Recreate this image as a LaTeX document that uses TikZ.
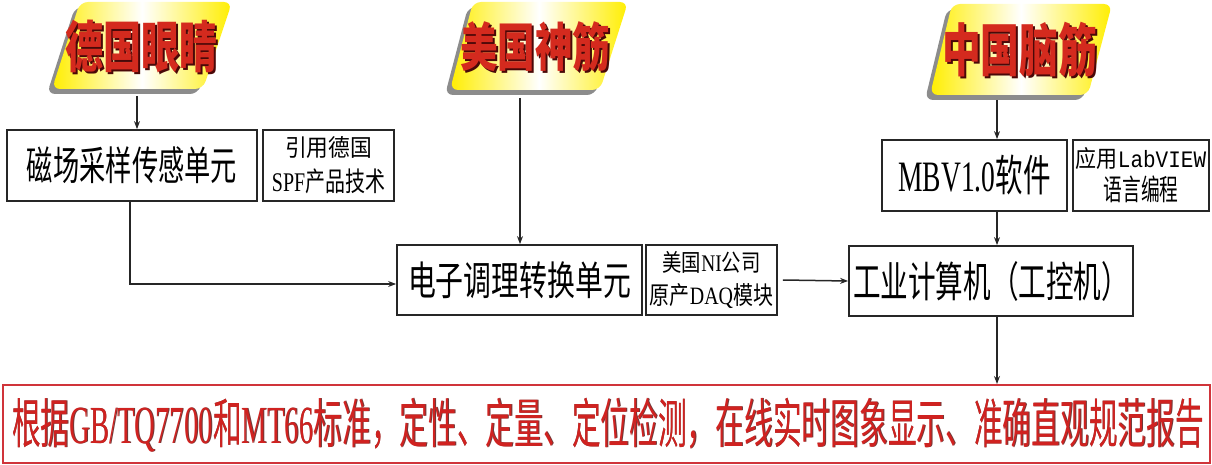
\documentclass[tikz,border=0pt]{standalone}
\usepackage{fontspec}
\usepackage{graphicx}
\setmainfont{Noto Sans CJK SC}
\newfontfamily\lat{Liberation Serif}
\newfontfamily\mon{Liberation Mono}
\usetikzlibrary{arrows.meta}
\newcommand{\fitto}[3]{\resizebox*{#1pt}{#2pt}{#3}}
\definecolor{bred}{HTML}{D42A1E}
\definecolor{bshadow}{HTML}{4A0808}
\definecolor{byel}{HTML}{FFEE00}
\definecolor{redline}{HTML}{D0343A}
\definecolor{btext}{HTML}{D02220}
\tikzset{
  box/.style={draw=black!85, line width=1.8pt, inner sep=0pt, fill=white, font=\fontsize{1}{1}\selectfont, align=center},
  redbox/.style={draw=redline, line width=2pt, inner sep=0pt},
  conn/.style={line width=1.1pt, draw=black!85, -{Stealth[length=8pt,width=6pt]}},
  banner/.style={left color=byel, right color=byel, middle color=white, rounded corners=8},
  bshade/.style={fill=black!45, rounded corners=8},
  btitle/.style={inner sep=0pt, text=bred, font=\bfseries},
  btshadow/.style={inner sep=0pt, text=bshadow, font=\bfseries}
}
\begin{document}
\begin{tikzpicture}[x=1pt,y=-1pt]
\useasboundingbox (0,0) rectangle (1212,465);
% banners
\fill[bshade] (75,7) -- (227,7) -- (198,94) -- (47,94) -- cycle;
\shade[banner] (80,2) -- (232,2) -- (203,89) -- (52,89) -- cycle;
\fill[bshade] (468,7) -- (623,7) -- (595,95) -- (445,95) -- cycle;
\shade[banner] (473,2) -- (628,2) -- (600,90) -- (450,90) -- cycle;
\fill[bshade] (947,9) -- (1107,9) -- (1083,100) -- (925,100) -- cycle;
\shade[banner] (952,4) -- (1112,4) -- (1088,95) -- (930,95) -- cycle;
\node[btshadow] (t1s) at (143,48.5) {\fitto{152}{53}{德国眼睛}};
\node[btitle] (t1) at (141,46.5) {\fitto{152}{53}{德国眼睛}};
\node[btshadow] (t2s) at (537,49) {\fitto{150}{50}{美国神筋}};
\node[btitle] (t2) at (535,47) {\fitto{150}{50}{美国神筋}};
\node[btshadow] (t3s) at (1021.5,51.5) {\fitto{155}{55}{中国脑筋}};
\node[btitle] (t3) at (1019.5,49.5) {\fitto{155}{55}{中国脑筋}};
\coordinate (g1) at (137,96);
\coordinate (g2) at (520,98);
\coordinate (g3) at (997,100);
% boxes
\node[box, minimum width=250, minimum height=71] (b1) at (132,165.5) {\fitto{210}{37}{磁场采样传感单元}};
\node[box, minimum width=131, minimum height=71] (b1n) at (328.5,165.5) {\fitto{87}{22}{引用德国}\\[9pt]\fitto{113}{25}{{\lat SPF}产品技术}};
\node[box, minimum width=245, minimum height=70] (b2) at (519.5,280) {\fitto{223}{37}{电子调理转换单元}};
\node[box, minimum width=131, minimum height=70] (b2n) at (711.5,280) {\fitto{98}{22}{美国{\lat NI}公司}\\[9pt]\fitto{123}{25}{原产{\lat DAQ}模块}};
\node[box, minimum width=185, minimum height=71] (b3) at (974.5,175.5) {\fitto{152}{40}{{\lat MBV1.0}软件}};
\node[box, minimum width=136, minimum height=71] (b3n) at (1141,175.5) {\fitto{130}{22}{应用{\mon LabVIEW}}\\[5pt]\fitto{75}{27}{语言编程}};
\node[box, minimum width=284, minimum height=70] (b4) at (991,281) {\fitto{276}{40}{工业计算机（工控机）}};
\node[redbox, minimum width=1207, minimum height=78] (bot) at (606,424) {};
\node[inner sep=0pt, text=bshadow!80] (bts) at (608.7,425.5) {\fitto{1192}{54}{根据{\lat GB/TQ7700}和{\lat MT66}标准，定性、定量、定位检测，在线实时图象显示、准确直观规范报告}};
\node[inner sep=0pt, text=btext] (bt) at (608,425) {\fitto{1192}{54}{根据{\lat GB/TQ7700}和{\lat MT66}标准，定性、定量、定位检测，在线实时图象显示、准确直观规范报告}};
% connectors
\draw[conn] (g1) -- (g1 |- b1.north);
\draw[conn] (g2) -- (g2 |- b2.north);
\draw[conn] (g3) -- (g3 |- b3.north);
\draw[conn] ([xshift=-2pt]b1.south) |- ([yshift=-4pt]b2.west);
\draw[conn, line width=1.5pt] ([xshift=5pt]b2n.east) -- (b4.west);
\draw[conn] (g3 |- b3.south) -- (g3 |- b4.north);
\draw[conn] (g3 |- b4.south) -- (g3 |- bot.north);
\end{tikzpicture}
\end{document}
